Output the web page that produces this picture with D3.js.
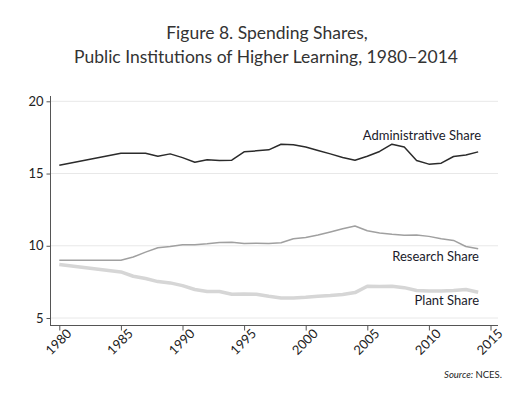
<!DOCTYPE html>
<html>
<head>
<meta charset="utf-8">
<script src="https://cdn.jsdelivr.net/npm/d3@7"></script>
<style>
  body { margin: 0; background: #fff; }
  text { font-family: Lato, "Open Sans", sans-serif; }
</style>
</head>
<body>
<svg id="chart"></svg>
<script>
var years = [1980, 1985, 1986, 1987, 1988, 1989, 1990, 1991, 1992, 1993, 1994,
    1995, 1996, 1997, 1998, 1999, 2000, 2001, 2002, 2003, 2004,
    2005, 2006, 2007, 2008, 2009, 2010, 2011, 2012, 2013, 2014];

var adminShare = [15.58, 16.41, 16.41, 16.41, 16.2, 16.36, 16.1, 15.78, 15.95, 15.9, 15.92,
    16.5, 16.57, 16.64, 17.03, 16.99, 16.83, 16.6, 16.36, 16.11, 15.92,
    16.2, 16.53, 17.03, 16.83, 15.9, 15.65, 15.72, 16.18, 16.29, 16.5];

var researchShare = [9.0, 9.0, 9.22, 9.56, 9.86, 9.95, 10.07, 10.07, 10.14, 10.23, 10.25,
    10.16, 10.18, 10.16, 10.21, 10.49, 10.58, 10.74, 10.95, 11.18, 11.37,
    11.04, 10.88, 10.79, 10.72, 10.74, 10.65, 10.49, 10.37, 9.95, 9.79];

var plantShare = [8.7, 8.19, 7.89, 7.73, 7.52, 7.43, 7.24, 6.97, 6.83, 6.83, 6.64,
    6.66, 6.64, 6.5, 6.39, 6.39, 6.43, 6.5, 6.55, 6.62, 6.76,
    7.2, 7.18, 7.2, 7.1, 6.9, 6.87, 6.87, 6.9, 6.97, 6.78];

var yTicks = [5, 10, 15, 20];
var xTicks = [1980, 1985, 1990, 1995, 2000, 2005, 2010, 2015];

var width = 520, height = 396;

var svg = d3.select("#chart")
    .attr("width", width)
    .attr("height", height);

var x = d3.scaleLinear()
    .domain([1980, 2015])
    .range([59.3, 490.5]);

var y = d3.scaleLinear()
    .domain([5, 20])
    .range([318, 101.3]);

// title
svg.append("text")
    .attr("x", 267)
    .attr("y", 39)
    .attr("text-anchor", "middle")
    .attr("font-size", 17.5)
    .attr("fill", "#333")
    .text("Figure 8. Spending Shares,");
svg.append("text")
    .attr("x", 266)
    .attr("y", 63)
    .attr("text-anchor", "middle")
    .attr("font-size", 17.5)
    .attr("fill", "#333")
    .text("Public Institutions of Higher Learning, 1980\u20132014");

// gridlines
svg.append("g")
    .selectAll("line")
    .data(yTicks)
    .enter().append("line")
    .attr("x1", 51)
    .attr("x2", 498)
    .attr("y1", function (d) { return y(d); })
    .attr("y2", function (d) { return y(d); })
    .attr("stroke", "#e8e8e8")
    .attr("stroke-width", 1);

// axes
var yAxis = svg.append("g")
    .attr("transform", "translate(50.5,0)")
    .call(d3.axisLeft(y).tickValues(yTicks).tickSize(4).tickPadding(3));
yAxis.select(".domain").attr("d", "M0,96V326");

var xAxis = svg.append("g")
    .attr("transform", "translate(0,325.5)")
    .call(d3.axisBottom(x).tickValues(xTicks).tickFormat(d3.format("d")).tickSize(5).tickPadding(3));
xAxis.select(".domain").attr("d", "M50,0H498");
xAxis.selectAll("text")
    .attr("text-anchor", "end")
    .attr("dx", "0.2em")
    .attr("dy", "0.55em")
    .attr("transform", "rotate(-45)");

[yAxis, xAxis].forEach(function (g) {
    g.selectAll(".domain, line").attr("stroke", "#555");
    g.selectAll("text")
        .attr("fill", "#222")
        .attr("font-size", 13)
        .attr("font-family", "Lato, sans-serif");
});

function line(values) {
    return d3.line()
        .x(function (d, i) { return x(years[i]); })
        .y(function (d) { return y(d); })(values);
}

svg.append("path")
    .attr("d", line(plantShare))
    .attr("fill", "none")
    .attr("stroke", "#d6d6d6")
    .attr("stroke-width", 3.5)
    .attr("stroke-linejoin", "round");

svg.append("path")
    .attr("d", line(researchShare))
    .attr("fill", "none")
    .attr("stroke", "#a0a0a0")
    .attr("stroke-width", 1.5)
    .attr("stroke-linejoin", "round");

svg.append("path")
    .attr("d", line(adminShare))
    .attr("fill", "none")
    .attr("stroke", "#2b2b2b")
    .attr("stroke-width", 1.5)
    .attr("stroke-linejoin", "round");

// series labels
var labels = [
    { text: "Administrative Share", x: 481, y: 140 },
    { text: "Research Share", x: 479, y: 261 },
    { text: "Plant Share", x: 479, y: 305 }
];
svg.append("g")
    .selectAll("text")
    .data(labels)
    .enter().append("text")
    .attr("x", function (d) { return d.x; })
    .attr("y", function (d) { return d.y; })
    .attr("text-anchor", "end")
    .attr("font-size", 13)
    .attr("fill", "#1a1a2a")
    .text(function (d) { return d.text; });

// source
var src = svg.append("text")
    .attr("x", 502)
    .attr("y", 378)
    .attr("text-anchor", "end")
    .attr("font-size", 9.5)
    .attr("fill", "#222");
src.append("tspan").attr("font-style", "italic").text("Source:");
src.append("tspan").text(" NCES.");
</script>
</body>
</html>
